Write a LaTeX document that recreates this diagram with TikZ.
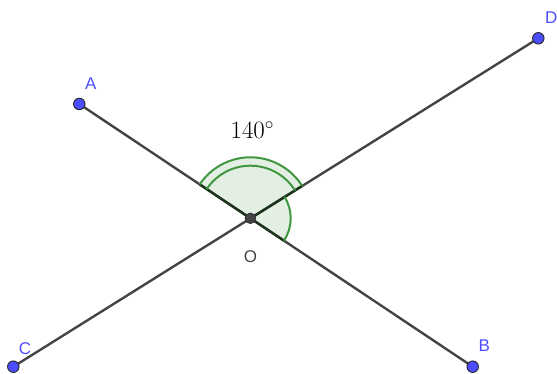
\documentclass[tikz,border=0pt]{standalone}
\usepackage{fontspec}
\newfontfamily\labfont{Liberation Sans}
\definecolor{linegray}{HTML}{444444}
\definecolor{ptblue}{HTML}{4D4DFF}
\definecolor{arcgreen}{HTML}{3F973F}
\definecolor{fillgreen}{HTML}{E4EFE4}
\definecolor{raddark}{HTML}{1C361C}
\definecolor{labgray}{HTML}{444444}
\tikzset{
  seg/.style={draw=linegray, line width=2.4pt},
  rad/.style={draw=raddark, line width=2.4pt},
  anglearc/.style={draw=arcgreen, line width=2pt},
  bluept/.style={circle, fill=ptblue, draw=black!85, line width=0.9pt, minimum size=11.5pt, inner sep=0pt},
  darkpt/.style={circle, fill=linegray, draw=black!80, line width=0.9pt, minimum size=10.5pt, inner sep=0pt},
  ptlab/.style={text=ptblue, font=\labfont\fontsize{17}{20}\selectfont, anchor=base, inner sep=0pt},
}
\begin{document}
\begin{tikzpicture}[x=1pt,y=1pt]
\useasboundingbox (0,0) rectangle (557,374);
\coordinate (O) at (250.4,155.7);
\coordinate (A) at (79.3,270);
\coordinate (D) at (538.3,335.7);
\coordinate (B) at (472.7,7.3);
\coordinate (C) at (13.3,7.3);
\path (O) ++(146.25:61pt) coordinate (a1);
\path (O) ++(146.25:52.6pt) coordinate (a2);
\path (O) ++(32.01:61pt) coordinate (d1);
\path (O) ++(32.01:40.3pt) coordinate (d3);
\path (O) ++(-33.73:40.3pt) coordinate (b1);
% sectors
\fill[fillgreen] (O) -- (a1) arc[start angle=146.25, end angle=32.01, radius=61pt] -- cycle;
\fill[fillgreen] (O) -- (d3) arc[start angle=32.01, end angle=-33.73, radius=40.3pt] -- cycle;
% segments
\draw[seg] (A) -- (B);
\draw[seg] (C) -- (D);
% dark angle sides
\draw[rad] (O) -- (a1);
\draw[rad] (O) -- (d1);
\draw[rad] (O) -- (b1);
% arcs
\draw[anglearc] (a1) arc[start angle=146.25, end angle=32.01, radius=61pt];
\draw[anglearc] (a2) arc[start angle=146.25, end angle=32.01, radius=52.6pt];
\draw[anglearc] (d3) arc[start angle=32.01, end angle=-33.73, radius=40.3pt];
% points
\node[bluept] (pA) at (A) {};
\node[bluept] (pB) at (B) {};
\node[bluept] (pC) at (C) {};
\node[bluept] (pD) at (D) {};
\node[darkpt] (pO) at (O) {};
% labels
\node[ptlab] (lA) at (90.7,284.7) {A};
\node[ptlab] (lD) at (551.3,350) {D};
\node[ptlab] (lC) at (25,19) {C};
\node[ptlab] (lB) at (484.3,22.3) {B};
\node[ptlab, text=labgray] (lO) at (250.4,111.3) {O};
\node[anchor=base west, inner sep=0pt, font=\fontsize{23}{26}\selectfont] (ang) at (230.5,235.7) {$140^\circ$};
\end{tikzpicture}
\end{document}
